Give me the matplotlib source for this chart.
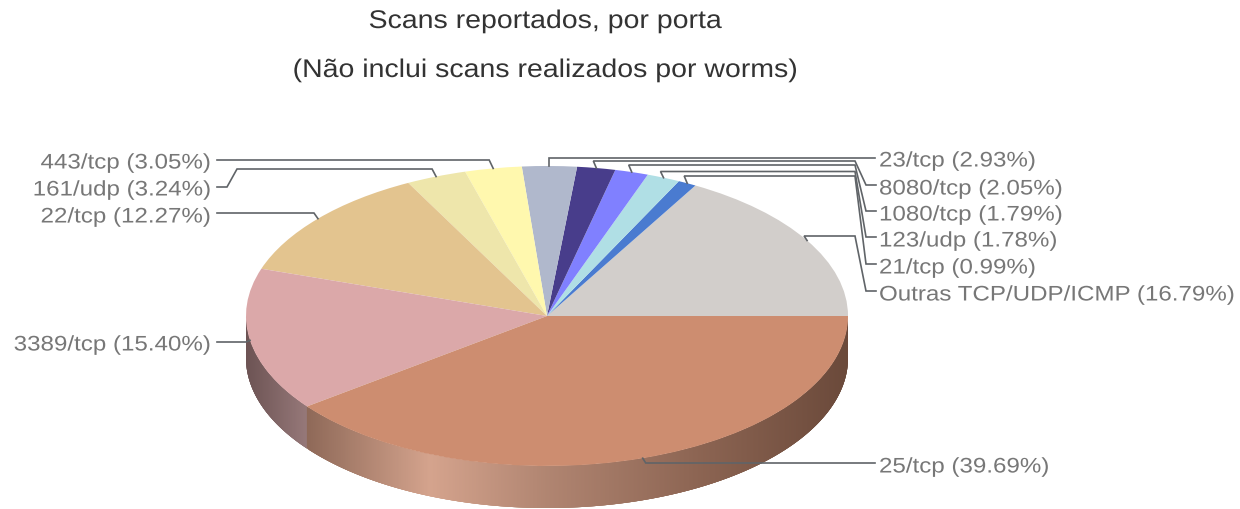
import numpy as np
import matplotlib
matplotlib.use("Agg")
import matplotlib.pyplot as plt
from matplotlib.patches import Polygon
from matplotlib.patheffects import AbstractPathEffect
from matplotlib.transforms import Affine2D

plt.rcParams['font.family'] = ['Liberation Sans', 'DejaVu Sans']

# ---- data ----
ports = ["Outras TCP/UDP/ICMP", "21/tcp", "123/udp", "1080/tcp", "8080/tcp", "23/tcp",
         "443/tcp", "161/udp", "22/tcp", "3389/tcp", "25/tcp"]
shares = [16.79, 0.99, 1.78, 1.79, 2.05, 2.93, 3.05, 3.24, 12.27, 15.40, 39.69]
title_lines = ["Scans reportados, por porta", "(Não inclui scans realizados por worms)"]

# ---- style ----
colors = ["#D2CECB", "#4A7BD0", "#B0DFE5", "#8080FF", "#483D8B", "#B0B8CC",
          "#FFF8AE", "#EEE6AB", "#E3C48F", "#DBA8A9", "#CD8D70"]
W, H = 1240, 509
CX, CY, RX, RY, DEPTH = 547, 316, 301, 150, 42
LEADER = "#606468"
TEXT = "#777777"
FS = 15.2
LABEL_STRETCH = 1.143
TITLE_FS = 18.4
TITLE_STRETCH = 1.115


class StretchX(AbstractPathEffect):
    """Widen glyphs about a fixed display x: the reference is stretched horizontally."""

    def __init__(self, anchor, factor):
        super().__init__()
        self.anchor = anchor
        self.factor = factor

    def draw_path(self, renderer, gc, tpath, affine, rgbFace=None):
        stretch = Affine2D().translate(-self.anchor, 0).scale(self.factor, 1).translate(self.anchor, 0)
        renderer.draw_path(gc, tpath, affine + stretch, rgbFace)


fig = plt.figure(figsize=(W / 100, H / 100), dpi=100, facecolor="white")
ax = fig.add_axes([0, 0, 1, 1])

vals = np.array(shares)
wedges, _ = ax.pie(vals, colors=colors, startangle=0, counterclock=True,
                   radius=1, center=(0, 0), normalize=True, frame=False,
                   wedgeprops=dict(linewidth=0))
for w in wedges:
    w.set_zorder(5)
ax.set_aspect("auto")
ax.set_xlim(-CX / RX, (W - CX) / RX)
ax.set_ylim(-(H - CY) / RY, CY / RY)
ax.axis("off")


def P(x, y):
    """pixel position -> data position"""
    return (x - CX) / RX, (CY - y) / RY


# side wall of the pie: overlapping strips, each painted over the previous one
fractions = vals / vals.sum()
edges = np.concatenate([[0], np.cumsum(fractions)]) * 2 * np.pi
shade_x = [245, 308, 430, 547, 700, 847]
shade_f = [0.49, 0.585, 0.77, 0.68, 0.62, 0.52]
shade_g = [0.0, 0.09, 0.215, 0.145, 0.05, 0.0]
dz = DEPTH / RY
STEP = np.radians(0.25)
z = 2.0
for start, end, col in zip(edges[:-1], edges[1:], colors):
    lo, hi = max(start, np.pi), end
    if hi <= lo:
        continue
    rgb = np.array(matplotlib.colors.to_rgb(col))
    steps = max(2, int((hi - lo) / STEP))
    ang = np.linspace(lo, hi, steps + 1)
    for a0, a1 in zip(ang[:-1], ang[1:]):
        xm = CX + RX * np.cos((a0 + a1) / 2)
        c = np.clip(rgb * np.interp(xm, shade_x, shade_f) + np.interp(xm, shade_x, shade_g), 0, 1)
        a2 = min(a1 + 3 * STEP, hi)
        arc = np.linspace(a0, a2, 6)
        top = np.column_stack([np.cos(arc), np.sin(arc)])
        bot = np.column_stack([np.cos(arc[::-1]), np.sin(arc[::-1]) - dz])
        ax.add_patch(Polygon(np.vstack([top, bot]), closed=True, facecolor=c,
                             edgecolor="none", lw=0, zorder=z))
        z += 1e-4

# labels and leader lines
mids = (edges[:-1] + edges[1:]) / 2
anchors = {p: (np.cos(m), np.sin(m)) for p, m in zip(ports, mids)}
label_text = {p: f"{p} ({v:.2f}%)" for p, v in zip(ports, shares)}

# side, label centre y, leader y at text, leader y of the run to the anchor
rows = {
    "23/tcp": ("R", 161, 158, 158),
    "8080/tcp": ("R", 189, 185, 161),
    "1080/tcp": ("R", 215, 211, 165),
    "123/udp": ("R", 241, 237, 171.5),
    "21/tcp": ("R", 268, 264, 176),
    "Outras TCP/UDP/ICMP": ("R", 295, 291, 236),
    "25/tcp": ("R", 467, 463, 463),
    "443/tcp": ("L", 163, 160, 160),
    "161/udp": ("L", 190, 187, 169),
    "22/tcp": ("L", 217, 213, 213),
    "3389/tcp": ("L", 345, 342, 342),
}
for port, (side, ty, ly, ry) in rows.items():
    ax_, ay_ = anchors[port]
    ax_px = CX + RX * ax_
    ay_px = CY - RY * ay_
    below = port == "25/tcp"
    knee = ax_px + (3 if below else -3 if ax_px > CX and port != "23/tcp" else 0)
    if side == "L":
        knee = ax_px - 4
    if side == "R":
        if ly == ry:
            path = [(875, ly), (knee, ry), (ax_px, ay_px)]
        else:
            path = [(876, ly), (866, ly), (855, ry), (knee, ry), (ax_px, ay_px)]
        ax.text(*P(879, ty), label_text[port], color=TEXT, fontsize=FS, ha="left", va="center",
                zorder=8, path_effects=[StretchX(879, LABEL_STRETCH)])
    else:
        if ly == ry:
            path = [(217, ly), (knee, ry), (ax_px, ay_px)]
        else:
            path = [(217, ly), (227, ly), (237, ry), (knee, ry), (ax_px, ay_px)]
        ax.text(*P(211, ty), label_text[port], color=TEXT, fontsize=FS, ha="right", va="center",
                zorder=8, path_effects=[StretchX(211, LABEL_STRETCH)])
    xs, ys = zip(*[P(*q) for q in path])
    ax.plot(xs, ys, color=LEADER, lw=1.2, zorder=7, solid_joinstyle="miter")

for line, y in zip(title_lines, [21, 70]):
    ax.text(*P(545, y), line, color="#333333", fontsize=TITLE_FS, ha="center", va="center",
            zorder=8, path_effects=[StretchX(545, TITLE_STRETCH)])

fig.savefig("out.png", dpi=100, facecolor="white")
